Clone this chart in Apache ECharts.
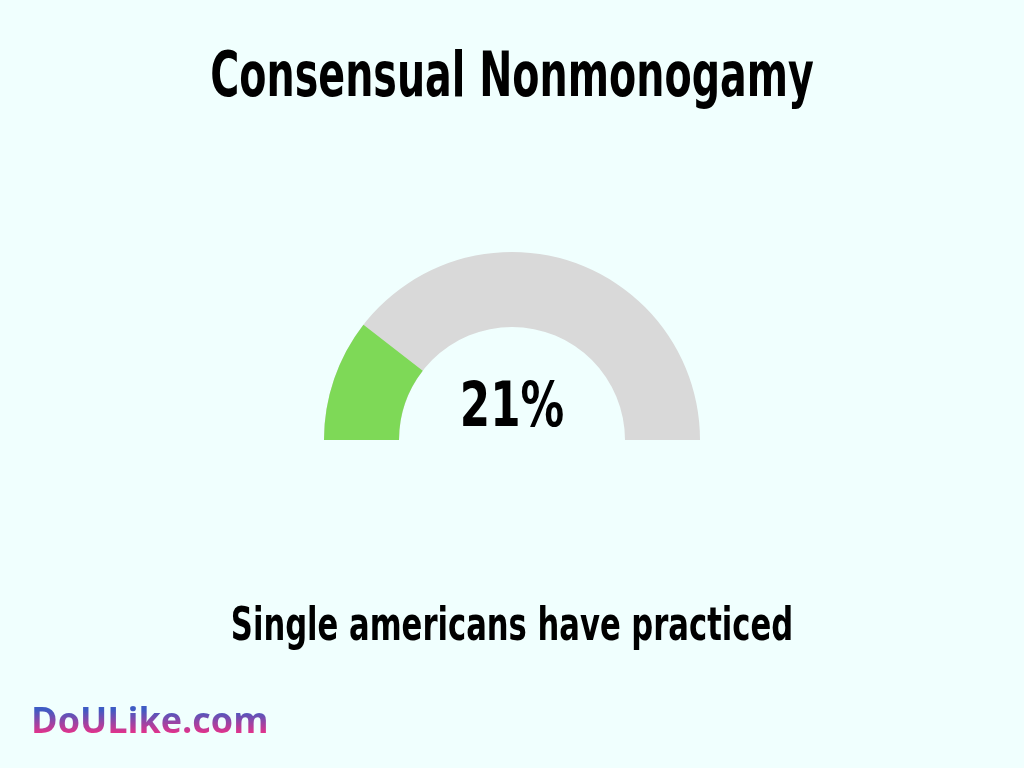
<!DOCTYPE html>
<html>
<head>
<meta charset="utf-8">
<script src="https://cdn.jsdelivr.net/npm/echarts@6/dist/echarts.min.js"></script>
<style>
html,body{margin:0;padding:0;background:#F0FFFE;}
#wrap{position:relative;width:1024px;height:768px;}
#chart{width:1024px;height:768px;}
#logo{position:absolute;left:31px;top:702px;margin:0;font:bold 36px/36px "Open Sans","Noto Sans",sans-serif;
  background:linear-gradient(to bottom,#3F5BC4 22%,#E0338C 85%);-webkit-background-clip:text;background-clip:text;
  color:transparent;-webkit-text-fill-color:transparent;white-space:nowrap;}
</style>
</head>
<body>
<div id="wrap">
<div id="chart"></div>
<div id="logo"></div>
</div>
<script>
const titleText = "Consensual Nonmonogamy";
const subtitleText = "Single americans have practiced";
const logoText = "DoULike.com";
const gaugeValue = [21];
const gaugeMax = 100;

document.getElementById('logo').textContent = logoText;

const chart = echarts.init(document.getElementById('chart'), null, {renderer:'canvas'});
const condensed = '"DejaVu Sans Condensed", "Liberation Sans Narrow", sans-serif';

chart.setOption({
  backgroundColor: '#F0FFFE',
  animation: false,
  series: [{
    type: 'gauge',
    center: [512, 440],
    radius: 188,
    startAngle: 180,
    endAngle: 0,
    min: 0,
    max: gaugeMax,
    pointer: {show:false},
    axisTick: {show:false},
    splitLine: {show:false},
    axisLabel: {show:false},
    anchor: {show:false},
    title: {show:false},
    axisLine: {lineStyle: {width: 75, color: [[1, '#D9D9D9']]}},
    progress: {show:true, width:75, roundCap:false, itemStyle:{color:'#7ED957'}},
    detail: {show:false},
    data: gaugeValue.map(v => ({value: v}))
  }],
  graphic: [
    {type:'text', x:512, y:80, scaleX:0.71, style:{x:0,y:0,text:titleText, font:'bold 62px ' + condensed, fill:'#000', align:'center', verticalAlign:'middle'}},
    {type:'text', x:512, y:410, scaleX:0.77, style:{x:0,y:0,text:gaugeValue[0] + '%', font:'bold 63px ' + condensed, fill:'#000', align:'center', verticalAlign:'middle'}},
    {type:'text', x:512, y:628, scaleX:0.74, style:{x:0,y:0,text:subtitleText, font:'bold 46px ' + condensed, fill:'#000', align:'center', verticalAlign:'middle'}}
  ]
});
</script>
</body>
</html>
